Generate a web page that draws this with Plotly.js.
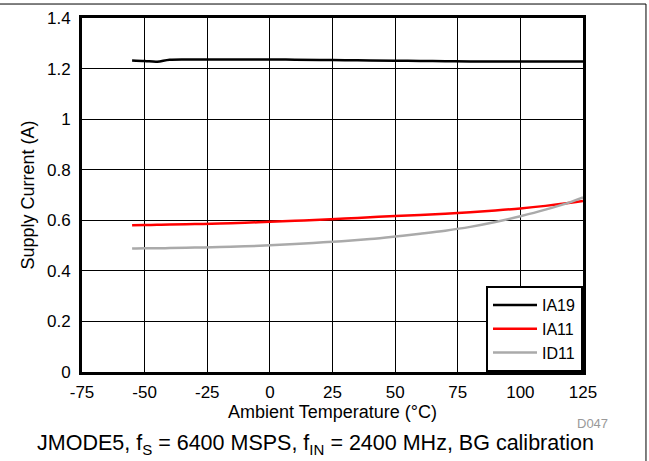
<!DOCTYPE html>
<html>
<head>
<meta charset="utf-8">
<script src="https://cdn.plot.ly/plotly-3.0.1.min.js"></script>
<style>html,body{margin:0;padding:0;background:#fff;}#chart{width:649px;height:461px;}</style>
</head>
<body>
<div id="chart"></div>
<script>
const temps = [-55,-50,-45,-40,-30,-20,-10,0,10,20,30,40,50,60,70,80,90,100,110,120,125];
const ia19 = [1.232,1.230,1.227,1.235,1.236,1.236,1.236,1.236,1.235,1.234,1.233,1.232,1.231,1.230,1.229,1.228,1.228,1.228,1.228,1.228,1.228];
const ia11 = [0.580,0.581,0.582,0.583,0.585,0.587,0.590,0.594,0.598,0.602,0.607,0.612,0.617,0.621,0.626,0.632,0.639,0.647,0.657,0.669,0.676];
const id11 = [0.488,0.489,0.489,0.490,0.492,0.494,0.497,0.501,0.506,0.512,0.518,0.526,0.536,0.547,0.559,0.574,0.593,0.616,0.642,0.672,0.690];
const seriesNames = ["IA19","IA11","ID11"];
const xTicks = [-75,-50,-25,0,25,50,75,100,125];
const yTicks = [0,0.2,0.4,0.6,0.8,1,1.2,1.4];

const font = "Liberation Sans, Arial, sans-serif";
const traces = [
  {x: temps, y: ia19, name: seriesNames[0], mode: "lines", line: {color: "#000000", width: 2.5, shape: "spline"}},
  {x: temps, y: ia11, name: seriesNames[1], mode: "lines", line: {color: "#ff0000", width: 2.5, shape: "spline"}},
  {x: temps, y: id11, name: seriesNames[2], mode: "lines", line: {color: "#aaaaaa", width: 2.5, shape: "spline"}}
];
const layout = {
  width: 649, height: 461,
  margin: {l: 82, r: 66, t: 18, b: 89},
  paper_bgcolor: "#ffffff", plot_bgcolor: "#ffffff",
  font: {family: font, size: 17, color: "#000"},
  showlegend: true,
  legend: {x: 1, y: 0, xanchor: "right", yanchor: "bottom", bgcolor: "#fff", bordercolor: "#000", borderwidth: 2,
           font: {size: 16}, tracegroupgap: 0, itemwidth: 44},
  xaxis: {
    range: [-75, 125], tickvals: xTicks, ticktext: xTicks.map(String),
    showgrid: true, gridcolor: "#000", gridwidth: 1, zeroline: false,
    showline: true, linecolor: "#000", linewidth: 3, mirror: true, ticks: "",
    tickfont: {size: 17}, ticklabelstandoff: 3,
    title: {text: "Ambient Temperature (°C)", font: {size: 18}, standoff: 0}
  },
  yaxis: {
    range: [0, 1.4], tickvals: yTicks, ticktext: yTicks.map(String),
    showgrid: true, gridcolor: "#000", gridwidth: 1, zeroline: false,
    showline: true, linecolor: "#000", linewidth: 3, mirror: true, ticks: "",
    tickfont: {size: 17}, ticklabelstandoff: 5,
    title: {text: "Supply Current (A)", font: {size: 18}, standoff: 8}
  },
  annotations: [
    {xref: "paper", yref: "paper", x: 1.054, y: -0.146, xanchor: "right", yanchor: "middle", showarrow: false, text: "D047", font: {size: 13, color: "#999"}},
    {xref: "paper", yref: "paper", x: 0.467, y: -0.206, xanchor: "center", yanchor: "middle", showarrow: false, text: "JMODE5, f<sub>S</sub> = 6400 MSPS, f<sub>IN</sub> = 2400 MHz, BG calibration", font: {size: 21.5, color: "#000"}}
  ],
  shapes: [
    {type: "line", xref: "paper", yref: "paper", x0: -0.2, x1: 1.1257, y0: 1.0395, y1: 1.0395, line: {color: "#000", width: 1}},
    {type: "line", xref: "paper", yref: "paper", x0: 1.1257, x1: 1.1257, y0: 1.0395, y1: -0.3, line: {color: "#000", width: 1}}
  ]
};
Plotly.newPlot("chart", traces, layout, {displayModeBar: false, staticPlot: true});
</script>
</body>
</html>
